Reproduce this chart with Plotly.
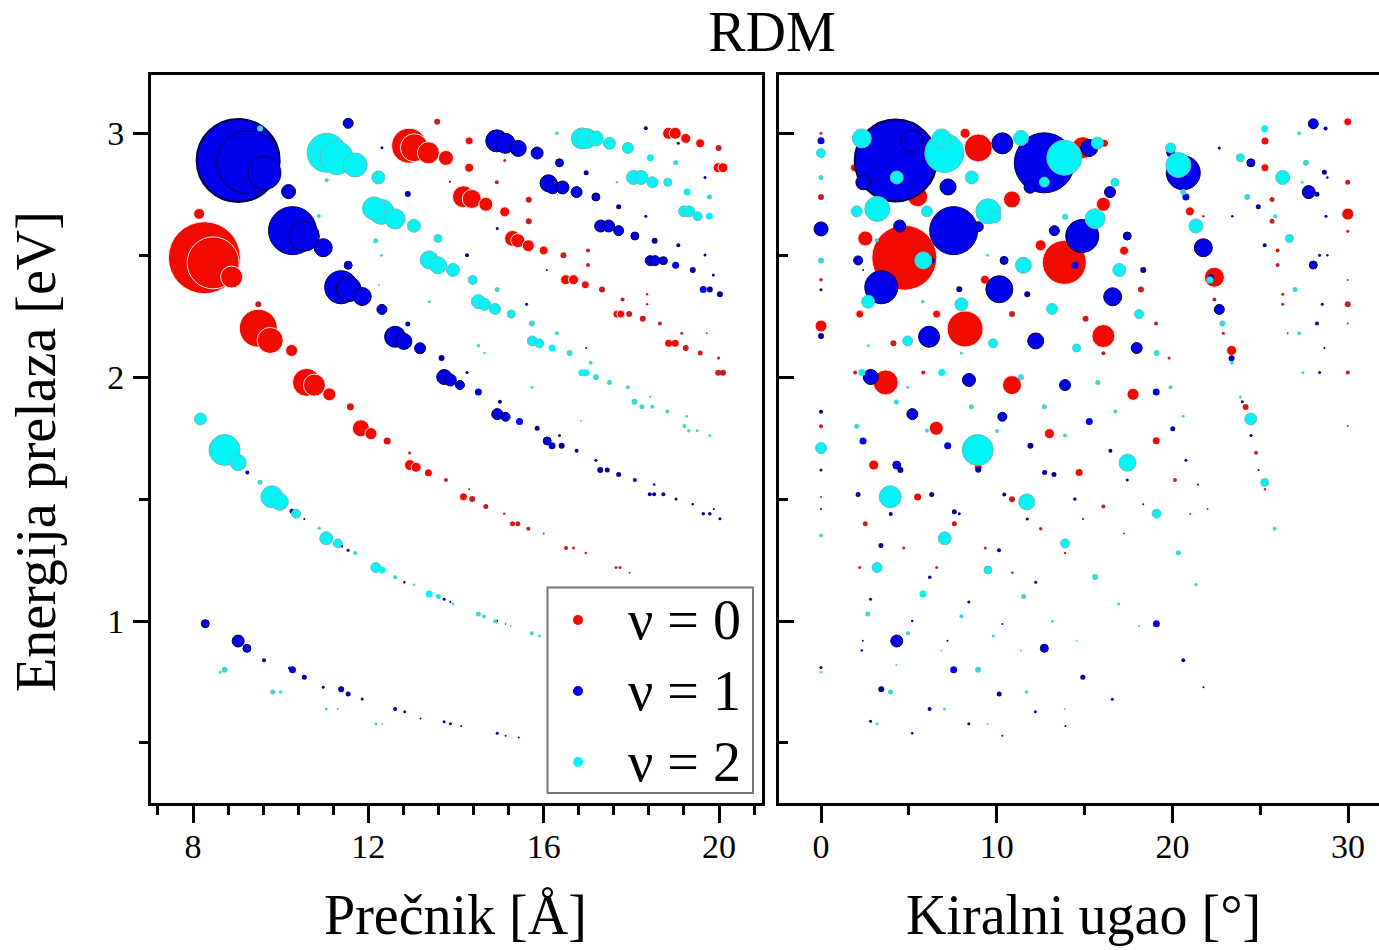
import plotly.graph_objects as go

# --- left panel: diameter [A], transition energy [eV], bubble size ---
d_v0 = [8.26,8.46,8.88,8.14,9.49,9.49,9.76,10.25,10.59,10.77,11.11,11.59,11.83,12.06,12.43,12.94,12.95,13.09,13.37,13.77,14.17,14.37,14.68,15.1,15.29,15.41,15.65,16.0,16.51,16.68,16.96,17.65,17.74,17.96,14.3,12.93,13.05,13.37,13.77,13.57,14.3,14.3,14.17,14.36,14.68,15.11,15.66,15.66,14.93,15.11,15.29,15.41,15.65,16.0,16.45,17.01,17.01,16.5,16.68,16.95,17.33,17.8,18.36,18.36,17.67,17.76,17.95,18.26,18.65,19.15,19.72,18.85,19.0,19.24,19.57,19.99,19.98,20.09,18.85,19.0,19.24,19.57,19.99,19.98,20.09]
e_v0 = [2.489,2.468,2.41,2.669,2.298,2.2,2.15,2.109,1.978,1.967,1.929,1.878,1.79,1.768,1.738,1.689,1.639,1.63,1.608,1.578,1.509,1.5,1.469,1.44,1.399,1.399,1.378,1.359,1.299,1.299,1.279,1.219,1.219,1.198,1.54,2.948,2.94,2.919,2.898,3.046,2.968,2.858,2.739,2.73,2.708,2.677,2.727,2.638,2.798,2.888,2.568,2.559,2.538,2.519,2.499,2.519,2.459,2.399,2.399,2.378,2.359,2.318,2.339,2.298,2.258,2.258,2.258,2.239,2.219,2.179,2.179,2.999,2.999,2.978,2.958,2.939,2.858,2.858,2.138,2.138,2.119,2.098,2.078,2.018,2.018]
s_v0 = [72,52,22,11,6,38,26,12,28,22,13,7,17,12,7,3,11,10,7,4,8,6,5,2.5,5,5,4,2,4,3,2.5,3,3,2,2,35,28,22,15,6,8,9,22,19,14,10,6,6,4,3,16,14,12,9,6,4,4,10,10,8,6,4,2.5,2.5,8,8,6,6,4,3,2,12,12,10,9,6,10,10,7,7,6,5,3,6,6]

d_v1 = [9.03,9.26,9.63,10.18,11.54,12.31,12.9,13.86,10.27,10.54,10.97,11.54,11.38,11.55,11.86,12.31,12.9,12.61,12.81,13.18,13.67,13.73,13.87,14.09,14.51,14.25,15.0,14.94,15.13,15.45,15.85,16.08,16.19,16.41,16.36,16.75,17.19,17.29,17.45,17.71,18.08,18.52,18.42,18.52,18.73,19.02,19.4,19.64,19.79,20.02,19.88,14.93,15.12,15.42,15.85,16.36,16.97,17.71,18.33,19.07,19.68,19.07,19.68,19.87,16.11,16.2,16.43,16.75,17.19,18.33,14.94,17.3,17.48,17.71,18.08,18.53,18.43,18.54,18.73,19.01,19.4,19.64,19.79,20.02,14.25,16.07,15.61,16.97,8.28,9.03,9.23,9.62,10.27,10.2,10.54,10.97,11.38,11.54,11.86,12.61,12.83,13.19,13.73,13.87,14.12,14.94,15.13,15.43,9.24,10.26,11.39,11.54,10.54,12.82,13.73,13.87,14.93,15.13]
e_v1 = [2.888,2.88,2.836,2.76,3.04,2.94,2.75,2.8,2.6,2.577,2.53,2.458,2.368,2.36,2.33,2.277,2.217,2.165,2.146,2.118,2.078,2.0,1.988,1.967,1.939,2.019,1.899,1.848,1.837,1.818,1.79,1.738,1.718,1.718,1.76,1.698,1.659,1.619,1.619,1.6,1.578,1.559,1.52,1.52,1.52,1.5,1.479,1.44,1.44,1.419,1.459,2.968,2.958,2.937,2.918,2.878,2.837,2.698,3.02,2.958,2.818,2.54,2.5,2.418,2.794,2.78,2.777,2.758,2.738,2.659,2.609,2.619,2.619,2.6,2.578,2.559,2.477,2.477,2.477,2.458,2.439,2.359,2.359,2.339,2.499,2.439,2.298,2.119,0.989,0.918,0.888,0.839,0.8,0.807,0.769,0.728,0.72,0.701,0.68,0.639,0.628,0.6,0.587,0.579,0.57,0.54,0.53,0.522,1.609,1.45,1.307,1.29,1.418,1.159,1.089,1.078,1.0,0.988]
s_v1 = [83,63,33,14,10,3,6,2,48,30,18,8,33,25,18,10,5,21,16,11,6,15,12,9,7,3,4,11,9,7,5,8,7,6,3,4,3,6,5,5,4,2.5,4,4,4,3,2.5,3.5,3.5,3,2,22,20,16,12,8,5,5,4,3,3,4,3,3,17,14,13,11,8,3,3,12,12,10,8,6,10,10,8,7,6,7,6,6,4,2,3,2,8,12,8,4,7,3,5,3,6,5,3,4,3,2,3,3,2,3,2,2,4,5,3,3,2,2.5,3,2,2.5,1.5]

d_v2 = [11.05,11.28,11.7,12.23,11.05,9.53,10.87,12.13,12.3,12.61,13.04,12.17,12.3,13.59,13.39,13.59,13.93,12.24,13.39,14.38,14.94,14.51,14.65,14.89,15.26,15.73,16.3,16.87,16.98,17.19,17.5,17.92,18.43,19.01,16.3,18.05,18.22,18.48,18.83,19.27,19.78,17.67,19.2,19.32,19.51,19.78,14.51,14.65,15.74,15.9,16.19,16.59,17.07,16.87,16.96,17.19,17.5,17.92,15.73,16.85,18.07,18.24,18.48,18.82,18.43,19.26,19.21,19.31,19.5,19.79,8.17,8.72,9.03,9.53,9.8,9.98,10.35,10.88,11.04,11.3,11.7,12.17,12.31,12.61,13.04,13.39,13.6,13.93,14.51,14.64,14.89,15.73,15.9,15.25,8.72,8.62,9.82,10.0,11.04,11.3,12.17,12.31]
e_v2 = [2.919,2.898,2.869,2.818,2.807,3.019,2.66,2.691,2.677,2.648,2.62,2.559,2.499,2.568,2.48,2.458,2.439,2.377,2.309,2.398,2.359,2.309,2.298,2.279,2.258,2.219,2.179,2.978,2.978,2.978,2.958,2.939,2.899,2.878,2.999,2.818,2.818,2.798,2.798,2.758,2.738,2.798,2.679,2.679,2.659,2.659,2.128,2.098,2.148,2.138,2.119,2.098,2.059,2.018,2.018,1.999,1.978,1.958,1.958,1.821,1.899,1.878,1.878,1.859,1.919,1.839,1.799,1.78,1.78,1.76,1.828,1.701,1.649,1.569,1.509,1.489,1.44,1.38,1.339,1.318,1.279,1.219,1.209,1.179,1.149,1.111,1.1,1.07,1.029,1.018,0.999,0.95,0.939,0.98,0.8,0.79,0.709,0.709,0.639,0.639,0.579,0.578]
s_v2 = [39,33,24,13,4,6,4,23,25,20,13,5,3,8,18,17,13,2,3,9,5,14,12,11,8,6,4,21,20,15,12,11,7,5,3.5,14,14,11,8,7,5,2.5,11,11,9,7,3.5,2.5,10,9,7,6,4,7,7,6,5,4,3,2,6,5,4,4,2.5,3,4,3.5,3,3,12,31,16,5,22,17,9,3.5,13,9,4,10,7,4,2.5,7,5,3,5,4,4,4,3,2,6,3,5,3.5,3,2,3,2]

# --- right panel: chiral angle [deg], transition energy [eV], bubble size ---
a_v0 = [4.74,13.85,8.95,8.2,10.87,5.5,1.9,2.52,12.5,9.33,0,0,0,2.2,6.58,10.87,0,8.2,14.9,16.13,16.07,17.25,18.21,15.06,16.07,21.0,21.76,22.39,22.39,25.27,25.27,25.67,25.67,25.99,25.99,26.28,26.28,29.98,29.98,29.98,29.98,29.98,29.98,29.98,19.07,16.07,19.81,23.37,22.9,26.56,17.76,19.08,14.69,20.15,16.07,21.02,24.17,24.76,25.27,17.25,22.0,29.98,29.98,4.12,1.94,5.82,3.68,10.87,0,6.56,13.0,3.0,8.95,5.5,10.87,2.52,7.59,12.5,4.71,9.35,2.2,6.58,10.89,13.89,0]
ae_v0 = [2.489,2.47,2.939,2.999,2.728,2.739,2.858,2.568,2.54,2.399,2.999,2.738,2.399,2.258,2.258,2.258,2.209,2.197,2.94,2.958,2.708,2.518,2.359,2.239,2.168,2.679,2.659,2.409,2.318,2.967,2.858,2.728,2.638,2.519,2.459,2.339,2.298,3.046,2.798,2.668,2.598,2.298,2.398,2.219,2.219,2.097,2.078,2.109,2.179,2.179,1.929,1.739,1.609,1.578,1.469,1.439,1.877,1.69,1.54,1.359,1.459,2.019,1.799,2.138,2.019,2.019,1.978,1.967,1.798,1.79,1.768,1.639,1.63,1.508,1.499,1.399,1.399,1.378,1.299,1.299,1.219,1.219,1.198,1.279,1.508]
as_v0 = [65,44,28,10,17,20,8,15,11,9,3,6,3.5,8,8,6,12,36,22,7,14,9,6,6,23,9,2.5,20,4,7,8,5,5,4,4,3,3,8,5,12,3,6,2,2,4,4,3,10,3,2,12,7,7,4,4,2,6,4,2.5,2,2,4,2,6,4,4,25,19,4,14,10,10,8,7,6,5,5,3.5,3,3,3,3,2.5,2.5,2]

a_v1 = [4.25,5.16,2.41,7.23,10.32,12.71,11.9,7.55,8.95,4.48,0,0,3.43,2.11,6.3,10.15,10.42,11.74,13.28,14.87,14.46,7.87,0,2.4,15.27,6.15,12.22,0,2.83,8.42,13.89,5.2,10.32,2.39,7.21,11.92,4.31,4.52,8.95,12.73,13.26,0,0,2.11,6.3,10.43,14.46,3.97,7.59,7.87,11.74,14.91,3.41,10.13,6.19,12.22,0,20.62,19.9,20.77,21.76,22.67,17.43,16.45,18.34,16.6,22.67,23.41,24.47,24.89,25.25,27.76,28.23,28.02,28.72,28.65,28.82,28.74,28.38,28.82,28.02,28.53,28.23,22.2,17.97,15.27,19.08,20.02,16.47,17.43,20.77,21.46,23.37,23.98,24.47,28.38,28.65,24.91,14.44,18.34,4.31,12.71,19.09,7.55,14.9,3.43,10.14,20.62,0,6.18,12.2,16.58,2.82,5.19,8.41,2.38,7.2,10.32,2.82,5.19,8.41,10.32,13.91,21.77,2.32]
ae_v1 = [2.888,2.968,2.798,2.779,2.958,2.878,2.778,2.6,2.616,2.619,2.607,2.968,2.368,2.478,2.478,2.36,2.478,2.339,2.6,2.578,2.458,2.36,2.358,2.439,2.939,2.165,2.148,2.168,2.0,1.988,1.967,1.848,1.837,1.738,1.718,1.718,1.639,1.619,1.62,1.609,1.6,1.858,1.619,1.519,1.519,1.519,1.5,1.439,1.448,1.44,1.418,1.418,1.309,1.29,1.179,1.159,1.459,2.837,2.92,2.738,2.53,2.277,2.578,2.758,2.439,2.329,2.939,2.659,2.878,2.698,2.54,2.758,2.749,3.038,3.019,2.839,2.818,2.659,2.499,2.499,2.459,2.298,2.219,2.41,2.119,1.818,1.939,1.788,1.698,1.578,1.659,1.559,2.077,1.899,1.76,2.019,2.119,1.619,1.5,1.479,0.918,0.888,0.989,0.8,0.769,0.72,0.701,0.839,0.809,0.639,0.628,0.679,1.089,1.0,1.078,0.919,0.919,0.988,0.589,0.54,0.579,0.53,0.57,0.728,0.879]
as_v1 = [82,22,15,16,21,60,12,48,10,12,14,7,33,9,6,27,8,6,10,33,7,6,3,2,17,21,16,6,15,13,11,11,9,7,7,6,8,6,6,5,5,4,3,5,5,4,3,4,5,3,3,2,5,4,3.5,3,2,34,8,7,18,10,8,11,6,18,3,2.5,8,5,4,13,5,10,4,5,2.5,3,3,2.5,8,3,4,6,11,7,7,5,4,3,3,2,6,3,3,3,2,2,3,2,12,8,7,7,5,6,5,4,3,4,3,3,3,2.5,3,2,2,2,3,2.5,3,2,2,2,2.5]

a_v2 = [2.32,0,0,7.02,6.87,11.38,4.31,12.71,13.85,8.58,2.03,3.2,6.03,9.52,9.9,13.89,0,5.82,11.52,2.68,7.99,13.15,3.17,9.48,5.79,15.73,16.73,19.9,20.34,20.62,21.34,15.6,16.98,18.1,22.14,22.84,23.87,25.25,27.21,26.28,27.6,27.39,24.26,25.86,26.66,26.98,14.55,19.1,15.75,19.9,16.75,20.62,17.45,19.1,20.34,15.6,21.34,23.39,24.46,25.25,25.82,23.87,27.43,27.21,4.93,9.79,2.69,7.99,2.32,6.87,11.38,4.93,4.29,8.56,12.71,2.03,6.03,10.02,13.89,0,8.92,3.94,11.71,7.04,13.89,3.19,9.5,0,5.8,11.53,2.66,7.99,16.94,13.17,18.1,4.95,9.81,14.55,6.85,11.37,8.94,0,4.29,3.96,11.7,7.03,13.87,3.19,9.48]
ae_v2 = [2.978,2.918,2.818,2.918,2.978,2.98,2.818,2.799,2.899,2.818,2.679,2.689,2.679,2.679,2.657,2.657,2.478,2.478,2.458,2.309,2.298,2.279,2.561,2.499,2.309,2.959,2.798,2.939,2.869,2.758,2.619,2.649,2.439,2.258,2.398,2.219,2.899,3.018,2.999,2.818,2.878,2.798,2.738,2.659,2.568,2.359,2.119,2.098,1.978,1.958,1.859,1.839,1.649,1.44,1.28,1.18,1.15,2.059,1.828,1.568,1.378,1.918,2.019,2.179,2.148,2.138,2.128,2.098,2.019,2.019,1.999,1.958,1.898,1.878,1.878,1.798,1.78,1.779,1.76,1.709,1.701,1.509,1.488,1.339,1.318,1.219,1.209,1.35,1.111,1.1,1.029,1.019,1.07,0.999,0.98,0.95,0.939,0.919,0.879,0.879,0.8,0.79,0.82,0.709,0.709,0.639,0.639,0.579,0.578]
as_v2 = [19,9,5,39,19,15,13,10,35,13,11,25,11,25,12,6,6,17,16,13,13,11,4,3,3.5,12,8,10,25,6,14,20,13,9,7,6,8,7,4,14,6,3,6,4,8,5,8,6,5,4,4,3,17,9,5,6,3.5,4,12,8,4,3,3,4,10,9,3,3,7,7,6,3,5,5,5,5,4,4,4,11,31,22,16,13,9,10,8,4,7,5,5,4,3,3,2,4,3,2,2,2,6,2.5,2,5,3.5,3,2,3,2]

names = ["ν = 0", "ν = 1", "ν = 2"]
colors = ["#f00a00", "#0000ee", "#00f6f6"]
small_colors = ["#c81e1e", "#00009a", "#3fd6d6"]
edges = ["#ffecec", "#000040", "#6fb9b9"]
FONT = "Liberation Serif"
W, H = 1379, 950


def add(x, y, s, i, xa, ya):
    pts = sorted(zip(x, y, s), key=lambda p: -p[2])
    xs, ys, ss = zip(*pts)
    fig.add_trace(go.Scatter(
        x=xs, y=ys, mode="markers", name=names[i], xaxis=xa, yaxis=ya,
        showlegend=False, cliponaxis=True,
        marker=dict(
            size=ss, opacity=1,
            color=[colors[i] if v >= 7 else small_colors[i] for v in ss],
            line=dict(color=edges[i],
                      width=[2 if v > 70 and i == 1 else (1 if v >= 8 else 0) for v in ss]),
        ),
    ))


fig = go.Figure()
for i, (x, y, s) in enumerate([(d_v0, e_v0, s_v0), (d_v1, e_v1, s_v1), (d_v2, e_v2, s_v2)]):
    add(x, y, s, i, "x", "y")
for i, (x, y, s) in enumerate([(a_v0, ae_v0, as_v0), (a_v1, ae_v1, as_v1), (a_v2, ae_v2, as_v2)]):
    add(x, y, s, i, "x2", "y2")

tick_font = dict(family=FONT, size=34, color="black")
title_font = dict(family=FONT, size=56, color="black")
axis_common = dict(showgrid=False, zeroline=False, showline=True, linecolor="black",
                   linewidth=3, tickcolor="black", tickwidth=3, tickfont=tick_font)
ydomain = [1 - 803 / H, 1 - 74.5 / H]
yrange = [0.254, 3.24]


def px(v):
    return v / W


def py(v):
    return 1 - v / H


annotations = [
    dict(text="Prečnik [Å]", x=px(455), y=py(915), textangle=0),
    dict(text="Kiralni ugao [°]", x=px(1083), y=py(915), textangle=0),
    dict(text="Energija prelaza [eV]", x=px(36), y=py(452), textangle=-90),
]
annotations = [dict(a, xref="paper", yref="paper", xanchor="center", yanchor="middle",
                    showarrow=False, font=title_font) for a in annotations]
legend_rows = [620, 691, 762]
for name, row in zip(names, legend_rows):
    annotations.append(dict(text=name, x=px(684), y=py(row), xref="paper", yref="paper",
                            xanchor="center", yanchor="middle", showarrow=False,
                            font=dict(family=FONT, size=56, color="black")))

shapes = [dict(type="rect", xref="paper", yref="paper", x0=px(547.5), x1=px(753), y0=py(793), y1=py(587.5),
               fillcolor="white", line=dict(color="#777777", width=2), layer="above")]
for c, row in zip(colors, legend_rows):
    shapes.append(dict(type="circle", xref="paper", yref="paper", x0=px(573), x1=px(583),
                       y0=py(row + 5), y1=py(row - 5), fillcolor=c, line=dict(width=0), layer="above"))

fig.update_layout(
    width=W, height=H, autosize=False, paper_bgcolor="white", plot_bgcolor="white",
    margin=dict(l=0, r=0, t=0, b=0), showlegend=False,
    title=dict(text="RDM", x=772 / W, y=1 - 31 / H, xanchor="center", yanchor="middle",
               font=dict(family=FONT, size=56, color="black")),
    xaxis=dict(axis_common, domain=[151 / W, 762 / W], range=[7.042, 20.98], mirror=True,
               tickmode="array", tickvals=[8, 12, 16, 20], ticks="outside", ticklen=17, ticklabelstandoff=-6,
               minor=dict(tick0=0, dtick=0.8, ticks="outside", ticklen=9, tickwidth=3, tickcolor="black")),
    yaxis=dict(axis_common, domain=ydomain, range=yrange, mirror=True,
               tickmode="array", tickvals=[1, 2, 3], ticks="outside", ticklen=15, ticklabelstandoff=2,
               minor=dict(tick0=0, dtick=0.5, ticks="outside", ticklen=9, tickwidth=3, tickcolor="black")),
    xaxis2=dict(axis_common, domain=[778.5 / W, 1], range=[-2.42, 31.76], mirror=True, anchor="y2",
                tickmode="array", tickvals=[0, 10, 20, 30], ticks="outside", ticklen=17, ticklabelstandoff=-6,
                minor=dict(tick0=0, dtick=5, ticks="outside", ticklen=9, tickwidth=3, tickcolor="black")),
    yaxis2=dict(axis_common, domain=ydomain, range=yrange, anchor="x2",
                tickmode="array", tickvals=[1, 2, 3], ticks="inside", ticklen=15, showticklabels=False,
                minor=dict(tick0=0, dtick=0.5, ticks="inside", ticklen=9, tickwidth=3, tickcolor="black")),
    annotations=annotations, shapes=shapes,
)

fig.write_html("out.html", config={"displayModeBar": False},
               post_script="document.body.style.margin='0';")
